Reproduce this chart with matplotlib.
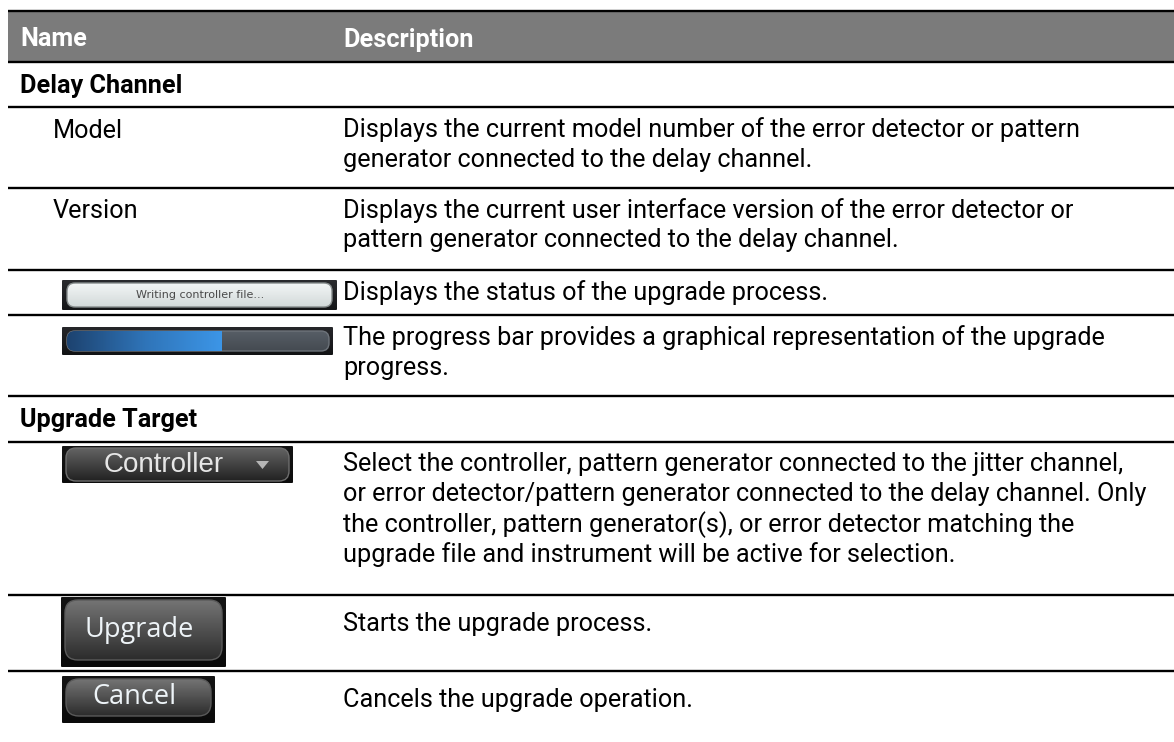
import numpy as np
import matplotlib
matplotlib.use("Agg")
import matplotlib.pyplot as plt
from matplotlib.patches import FancyBboxPatch, Rectangle, Polygon
from matplotlib.colors import LinearSegmentedColormap

# --- table content ---
header_cols = ["Name", "Description"]
row_names = ["Delay Channel", "Model", "Version", "Writing controller file...", "",
             "Upgrade Target", "Controller", "Upgrade", "Cancel"]
row_kinds = ["section", "text", "text", "status", "progress",
             "section", "dropdown", "button", "button"]
row_desc = [
    [],
    ["Displays the current model number of the error detector or pattern",
     "generator connected to the delay channel."],
    ["Displays the current user interface version of the error detector or",
     "pattern generator connected to the delay channel."],
    ["Displays the status of the upgrade process."],
    ["The progress bar provides a graphical representation of the upgrade",
     "progress."],
    [],
    ["Select the controller, pattern generator connected to the jitter channel,",
     "or error detector/pattern generator connected to the delay channel. Only",
     "the controller, pattern generator(s), or error detector matching the",
     "upgrade file and instrument will be active for selection."],
    ["Starts the upgrade process."],
    ["Cancels the upgrade operation."],
]
progress_value = 0.59

# --- layout (pixels) ---
W, H = 1174, 742
header_top, header_bot = 11, 62
row_heights = [45, 81, 82, 45, 81, 46, 153, 76, 71]
desc_x = 343
name_x = 53
section_x = 20
line_gap = 30
FONT = "Roboto"
FS = 18.2

fig = plt.figure(figsize=(W / 100, H / 100), dpi=100)
ax = fig.add_axes([0, 0, 1, 1])
ax.set_xlim(0, W)
ax.set_ylim(H, 0)
ax.axis("off")


def hline(y):
    ax.plot([8, W], [y, y], color="black", lw=1.7, solid_capstyle="butt", zorder=5)


def grad_fill(x, y, w, h, c_top, c_bot, r, edge=None, horizontal=False, z=3):
    patch = FancyBboxPatch((x + r, y + r), w - 2 * r, h - 2 * r,
                           boxstyle=f"round,pad={r}", fc="none",
                           ec=edge if edge else "none", lw=1.0, zorder=z + 0.5)
    ax.add_patch(patch)
    cmap = LinearSegmentedColormap.from_list("g", [c_top, c_bot])
    arr = np.linspace(0, 1, 64)
    arr = arr.reshape(1, -1) if horizontal else arr.reshape(-1, 1)
    im = ax.imshow(arr, cmap=cmap, extent=(x, x + w, y + h, y), aspect="auto",
                   interpolation="bilinear", zorder=z)
    im.set_clip_path(patch)
    return patch


# header band
ax.add_patch(Rectangle((8, header_top), W - 8, header_bot - header_top,
                       fc="#7b7b7b", ec="none", zorder=1))
hline(header_top)
hline(header_bot)
for hx, label in zip([section_x, desc_x], header_cols):
    ax.text(hx, 37, label, color="white", fontsize=FS, fontweight="bold",
            family=FONT, va="center_baseline")

y0 = header_bot
for name, kind, desc, rh in zip(row_names, row_kinds, row_desc, row_heights):
    if kind == "section":
        ax.text(section_x, y0 + 22, name, fontsize=FS, fontweight="bold",
                family=FONT, va="center_baseline", color="black")
    elif kind == "text":
        ax.text(name_x, y0 + 21, name, fontsize=FS, family=FONT,
                va="center_baseline", color="black")
    elif kind == "status":
        wy = y0 + 10
        grad_fill(62, wy, 275, 30, "#2a2b2e", "#141517", 1, z=2)
        grad_fill(67, wy + 3, 265, 24, "#f3f6f6", "#d2d9d9", 8, edge="#858b8b", z=3)
        ax.text(200, wy + 15, name, fontsize=8, family="Liberation Sans Narrow",
                color="#4a4a4a", ha="center", va="center", zorder=6)
    elif kind == "progress":
        wy = y0 + 12
        grad_fill(62, wy, 271, 28, "#26272a", "#121315", 1, z=2)
        track = grad_fill(67, wy + 4, 262, 20, "#575e66", "#444a51", 8, edge="#6d737a", z=3)
        fill_w = 262 * progress_value
        cmap = LinearSegmentedColormap.from_list("b", ["#1d4370", "#2f74b8", "#3c95e6"])
        im = ax.imshow(np.linspace(0, 1, 64).reshape(1, -1), cmap=cmap,
                       extent=(67, 67 + fill_w, wy + 24, wy + 4), aspect="auto",
                       interpolation="bilinear", zorder=4)
        im.set_clip_path(track)
    elif kind == "dropdown":
        wy = y0 + 4
        grad_fill(62, wy, 231, 37, "#151515", "#0c0c0c", 1, z=2)
        grad_fill(66, wy + 2, 223, 33, "#636363", "#222222", 10, edge="#6e6e6e", z=3)
        ax.text(164, wy + 19, name, fontsize=20, family="Liberation Sans",
                color="#e6e6e6", ha="center", va="center", zorder=6)
        ax.add_patch(Polygon([[256, wy + 15], [269, wy + 15], [262.5, wy + 23]],
                             closed=True, fc="#b5b5b5", ec="none", zorder=6))
    elif kind == "button":
        if name == "Upgrade":
            bx, by, bw, bh = 61, y0 + 2, 165, 70
        else:
            bx, by, bw, bh = 62, y0 + 5, 153, 47
        grad_fill(bx, by, bw, bh, "#141414", "#0a0a0a", 1, z=2)
        grad_fill(bx + 4, by + 3, bw - 8, bh - 10, "#747474", "#2c2c2c", 13,
                  edge="#5a5a5a", z=3)
        ax.text(bx + bw / 2 - 4, by + bh / 2 - 2, name, fontsize=19.5, family="Open Sans",
                color="#eef4f8", ha="center", va="center", zorder=6)

    for i, line in enumerate(desc):
        off = 20 if kind not in ("button",) else 26
        ax.text(desc_x, y0 + off + i * line_gap, line, fontsize=FS, family=FONT,
                va="center_baseline", color="black")
    y0 += rh
    if y0 < H - 2:
        hline(y0)

fig.savefig("out.png", dpi=100)
